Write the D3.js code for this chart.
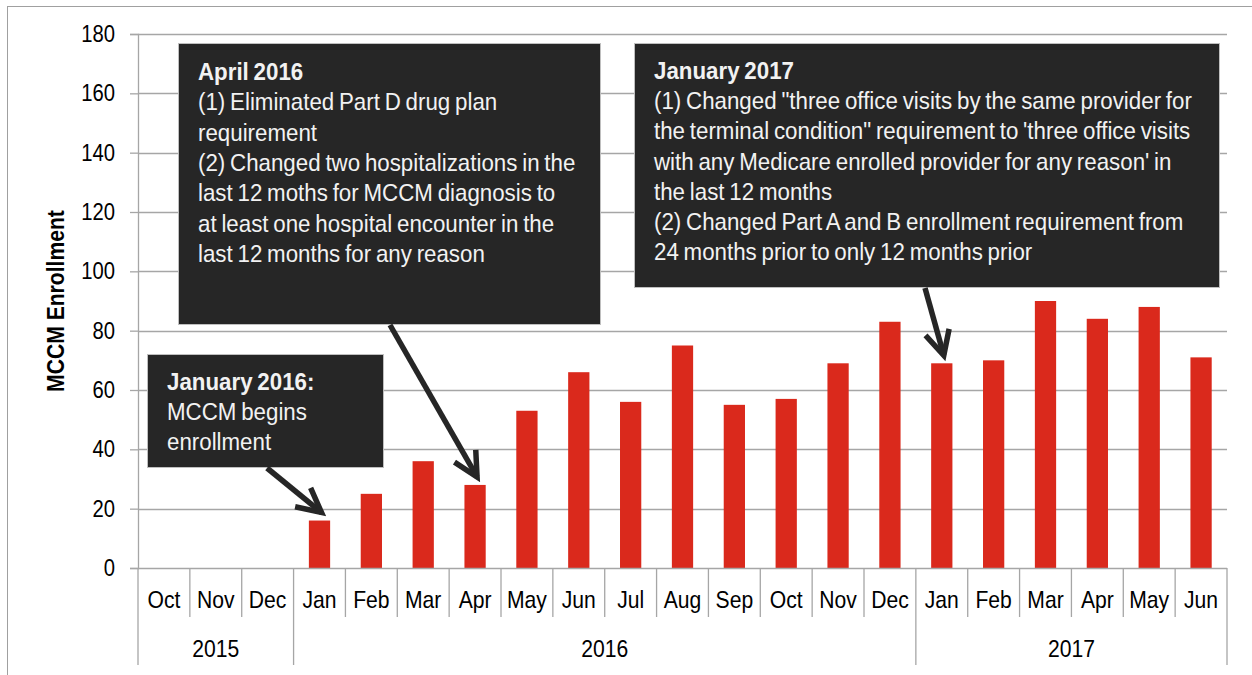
<!DOCTYPE html>
<html>
<head>
<meta charset="utf-8">
<script src="https://cdn.jsdelivr.net/npm/d3@7"></script>
<style>
  html, body { margin: 0; padding: 0; background: #ffffff; }
  svg { display: block; font-family: "Liberation Sans", Arial, sans-serif; }
</style>
</head>
<body>
<svg id="chart" width="1252" height="675"></svg>
<script>
// ---------------- DATA ----------------
const months = ["Oct","Nov","Dec","Jan","Feb","Mar","Apr","May","Jun","Jul","Aug","Sep","Oct","Nov","Dec","Jan","Feb","Mar","Apr","May","Jun"];
const monthYears = [2015,2015,2015,2016,2016,2016,2016,2016,2016,2016,2016,2016,2016,2016,2016,2017,2017,2017,2017,2017,2017];
const enrollment = [null,null,null,16,25,36,28,53,66,56,75,55,57,69,83,69,70,90,84,88,71];
const years = ["2015","2016","2017"];
const yTicks = [0,20,40,60,80,100,120,140,160,180];
const yTitle = "MCCM Enrollment";

const annotations = [
  { title: "April 2016",
    lines: ["(1) Eliminated Part D drug plan", "requirement", "(2) Changed two hospitalizations in the", "last 12 moths for MCCM diagnosis to", "at least one hospital encounter in the", "last 12 months for any reason"],
    targetIndex: 6 },
  { title: "January 2017",
    lines: ["(1) Changed \"three office visits by the same provider for", "the terminal condition\" requirement to 'three office visits", "with any Medicare enrolled provider for any reason' in", "the last 12 months", "(2) Changed Part A and B enrollment requirement from", "24 months prior to only 12 months prior"],
    targetIndex: 15 },
  { title: "January 2016:",
    lines: ["MCCM begins", "enrollment"],
    targetIndex: 3 }
];

// ---------------- LAYOUT ----------------
const svg = d3.select("#chart");
const plot = { left: 138, right: 1227, top: 34, bottom: 568 };
const SX = 0.88;   // horizontal glyph compression (axes)
const SXA = 0.93;  // horizontal glyph compression (annotations)
const gridColor = "#a6a6a6";
const barColor = "#da291c";
const boxFill = "#262626";

const keys = months.map((m, i) => i);
const x = d3.scaleBand().domain(keys).range([plot.left, plot.right]).paddingInner(0.59).paddingOuter(0.295);
const y = d3.scaleLinear().domain([0, 180]).range([plot.bottom, plot.top]);

// outer frame (top & left)
svg.append("line").attr("x1", 7).attr("x2", 1252).attr("y1", 6.5).attr("y2", 6.5).attr("stroke", "#a0a0a0").attr("stroke-width", 1);
svg.append("line").attr("x1", 7.5).attr("x2", 7.5).attr("y1", 6).attr("y2", 675).attr("stroke", "#a0a0a0").attr("stroke-width", 1);

// gridlines
svg.append("g").selectAll("line").data(yTicks.filter(t => t > 0)).join("line")
  .attr("x1", plot.left).attr("x2", plot.right)
  .attr("y1", d => Math.round(y(d)) + 0.5).attr("y2", d => Math.round(y(d)) + 0.5)
  .attr("stroke", gridColor).attr("stroke-width", 1.3);

// y axis
const yAxis = svg.append("g").attr("transform", `translate(${plot.left},0)`)
  .call(d3.axisLeft(y).tickValues(yTicks).tickSize(8).tickPadding(15));
yAxis.select(".domain").attr("stroke", gridColor).attr("stroke-width", 1.3);
yAxis.selectAll(".tick line").attr("stroke", gridColor).attr("stroke-width", 1.3);
yAxis.selectAll(".tick text")
  .attr("font-size", 23).attr("fill", "#000")
  .attr("font-family", "Liberation Sans, Arial, sans-serif")
  .attr("x", -23 / SX)
  .attr("transform", `scale(${SX},1)`);

// y title
svg.append("g").attr("transform", "translate(64,301) rotate(-90)")
  .append("text").attr("transform", `scale(${SX},1)`)
  .attr("text-anchor", "middle").attr("font-size", 24).attr("font-weight", "bold").attr("fill", "#000")
  .text(yTitle);

// bars
svg.append("g").selectAll("rect").data(keys.filter(i => enrollment[i] != null)).join("rect")
  .attr("x", i => x(i)).attr("width", x.bandwidth())
  .attr("y", i => y(enrollment[i])).attr("height", i => y(0) - y(enrollment[i]))
  .attr("fill", barColor);

// x axis line
svg.append("line").attr("x1", plot.left).attr("x2", plot.right)
  .attr("y1", plot.bottom + 0.5).attr("y2", plot.bottom + 0.5)
  .attr("stroke", gridColor).attr("stroke-width", 1.3);

// category dividers
const step = x.step();
const x0 = plot.left;
const boundaries = d3.range(months.length + 1);
svg.append("g").selectAll("line").data(boundaries).join("line")
  .attr("x1", b => x0 + b * step).attr("x2", b => x0 + b * step)
  .attr("y1", plot.bottom)
  .attr("y2", b => (b === 0 || b === months.length || monthYears[b] !== monthYears[b - 1]) ? 665 : 617)
  .attr("stroke", gridColor).attr("stroke-width", 1.3);

// month labels
svg.append("g").selectAll("g").data(keys).join("g")
  .attr("transform", i => `translate(${x(i) + x.bandwidth() / 2},608)`)
  .append("text").attr("transform", `scale(${SX},1)`)
  .attr("text-anchor", "middle").attr("font-size", 24).attr("fill", "#000")
  .text(i => months[i]);

// year labels
const yearSpans = years.map(yr => {
  const idx = keys.filter(i => String(monthYears[i]) === yr);
  return { yr, a: x0 + d3.min(idx) * step, b: x0 + (d3.max(idx) + 1) * step };
});
svg.append("g").selectAll("g").data(yearSpans).join("g")
  .attr("transform", d => `translate(${(d.a + d.b) / 2},657)`)
  .append("text").attr("transform", `scale(${SX},1)`)
  .attr("text-anchor", "middle").attr("font-size", 24).attr("fill", "#000")
  .text(d => d.yr);

// annotations
const boxes = [
  { x: 178, y: 43, w: 422, h: 281, tx: 198, ty: 80, lh: 30.3, from: [390, 325] },
  { x: 634, y: 43, w: 585, h: 244, tx: 654, ty: 79, lh: 30.2, from: [925, 288] },
  { x: 147, y: 354, w: 236, h: 113, tx: 167, ty: 390, lh: 30, from: [267, 468] }
];

annotations.forEach((a, k) => {
  const b = boxes[k];
  const g = svg.append("g");
  g.append("rect").attr("x", b.x + 0.5).attr("y", b.y + 0.5).attr("width", b.w).attr("height", b.h)
    .attr("fill", boxFill).attr("stroke", "#bfbfbf").attr("stroke-width", 1);
  const all = [a.title].concat(a.lines);
  all.forEach((t, j) => {
    g.append("g").attr("transform", `translate(${b.tx},${b.ty + j * b.lh})`)
      .append("text").attr("transform", `scale(${SXA},1)`)
      .attr("font-size", 24).attr("fill", "#f2f2f2")
      .attr("font-weight", j === 0 ? "bold" : "normal")
      .attr("word-spacing", -1.5)
      .text(t);
  });
  // arrow
  const tx = x(a.targetIndex) + x.bandwidth() / 2 + 2;
  const ty = y(enrollment[a.targetIndex]) - 8;
  const [fx, fy] = b.from;
  const ang = Math.atan2(fy - ty, fx - tx);
  const L = 27, da = 27 * Math.PI / 180;
  const p1 = [tx + L * Math.cos(ang + da), ty + L * Math.sin(ang + da)];
  const p2 = [tx + L * Math.cos(ang - da), ty + L * Math.sin(ang - da)];
  g.append("line").attr("x1", fx).attr("y1", fy).attr("x2", tx).attr("y2", ty)
    .attr("stroke", boxFill).attr("stroke-width", 5.5);
  g.append("path").attr("d", `M${p1[0]},${p1[1]}L${tx},${ty}L${p2[0]},${p2[1]}`)
    .attr("fill", "none").attr("stroke", boxFill).attr("stroke-width", 5.5).attr("stroke-linejoin", "miter");
});
</script>
</body>
</html>
